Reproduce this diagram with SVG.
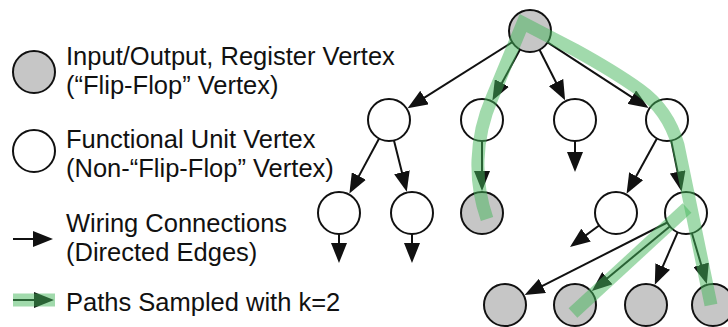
<svg xmlns="http://www.w3.org/2000/svg" width="728" height="327" viewBox="0 0 728 327">
  <defs>
    <marker id="arrow" viewBox="0 0 20 16" markerWidth="20" markerHeight="16" refX="16" refY="8" orient="auto" markerUnits="userSpaceOnUse">
      <path d="M0,0 L20,8 L0,16 Z" fill="#111"/>
    </marker>
  </defs>
  <style>
    .txt { font-family: "Liberation Sans", Arial, sans-serif; font-size: 25.5px; fill: #111; }
    .node { stroke: #111; stroke-width: 2; }
    .ff { fill: #c6c6c6; }
    .fu { fill: #fff; }
    .edge { stroke: #111; stroke-width: 2; fill: none; marker-end: url(#arrow); }
    .path { stroke: #43b55a; stroke-opacity: 0.5; stroke-width: 13; fill: none; stroke-linecap: butt; stroke-linejoin: miter; }
  </style>
  <rect width="728" height="327" fill="#fff"/>

  <!-- legend -->
  <g id="legend">
    <circle class="node ff" cx="34" cy="72" r="21"/>
    <text class="txt" x="66" y="65">Input/Output, Register Vertex</text>
    <text class="txt" x="66" y="94">(“Flip-Flop” Vertex)</text>
    <circle class="node fu" cx="34" cy="151" r="21"/>
    <text class="txt" x="66" y="148">Functional Unit Vertex</text>
    <text class="txt" x="66" y="177">(Non-“Flip-Flop” Vertex)</text>
    <line class="edge" x1="13" y1="239" x2="49" y2="239"/>
    <text class="txt" x="66" y="232">Wiring Connections</text>
    <text class="txt" x="66" y="261">(Directed Edges)</text>
    <line class="edge" x1="13" y1="300" x2="50" y2="300"/>
    <line class="path" x1="13" y1="300" x2="55" y2="300"/>
    <text class="txt" x="66" y="311">Paths Sampled with k=2</text>
  </g>

  <!-- wiring connections -->
  <g id="edges">
    <line class="edge" x1="512.2" y1="42.2" x2="411.0" y2="106.1"/>
    <line class="edge" x1="520.0" y1="49.5" x2="494.3" y2="97.1"/>
    <line class="edge" x1="539.5" y1="49.7" x2="563.3" y2="96.8"/>
    <line class="edge" x1="547.6" y1="42.4" x2="645.2" y2="105.8"/>
    <line class="edge" x1="379.1" y1="138.5" x2="351.3" y2="190.1"/>
    <line class="edge" x1="394.0" y1="140.4" x2="405.8" y2="187.8"/>
    <line class="edge" x1="482" y1="141" x2="482" y2="187"/>
    <line class="edge" x1="575" y1="141" x2="575" y2="168"/>
    <line class="edge" x1="656.9" y1="138.4" x2="628.5" y2="190.2"/>
    <line class="edge" x1="671.2" y1="140.6" x2="680.8" y2="187.5"/>
    <line class="edge" x1="339" y1="234" x2="339" y2="259"/>
    <line class="edge" x1="412" y1="234" x2="412" y2="259"/>
    <line class="edge" x1="599.1" y1="225.5" x2="573.2" y2="244.6"/>
    <line class="edge" x1="667.3" y1="222.5" x2="528.2" y2="293.2"/>
    <line class="edge" x1="669.8" y1="226.4" x2="595.0" y2="288.4"/>
    <line class="edge" x1="677.6" y1="232.3" x2="656.4" y2="281.2"/>
    <line class="edge" x1="691.9" y1="233.2" x2="705.7" y2="280.1"/>
  </g>

  <!-- vertices -->
  <g id="n-root"><circle class="node ff" cx="530" cy="31" r="21"/></g>
  <g id="n-a"><circle class="node fu" cx="389" cy="120" r="21"/></g>
  <g id="n-b"><circle class="node fu" cx="482" cy="120" r="21"/></g>
  <g id="n-c"><circle class="node fu" cx="575" cy="120" r="21"/></g>
  <g id="n-d"><circle class="node fu" cx="667" cy="120" r="21"/></g>
  <g id="n-a1"><circle class="node fu" cx="339" cy="213" r="21"/></g>
  <g id="n-a2"><circle class="node fu" cx="412" cy="213" r="21"/></g>
  <g id="n-b1"><circle class="node ff" cx="482" cy="213" r="21"/></g>
  <g id="n-d1"><circle class="node fu" cx="616" cy="213" r="21"/></g>
  <g id="n-d2"><circle class="node fu" cx="686" cy="213" r="21"/></g>
  <g id="n-o1"><circle class="node ff" cx="505" cy="305" r="21"/></g>
  <g id="n-o2"><circle class="node ff" cx="575" cy="305" r="21"/></g>
  <g id="n-o3"><circle class="node ff" cx="646" cy="305" r="21"/></g>
  <g id="n-o4"><circle class="node ff" cx="713" cy="305" r="21"/></g>

  <!-- sampled paths -->
  <g id="paths">
    <path class="path" d="M487,219 Q477,190 478,160 Q479,128 492,98 L523,23 L575,50 Q615,72 640,90 Q668,110 678,145 L711,305"/>
    <path class="path" d="M687,208 L573,313"/>
  </g>
</svg>
